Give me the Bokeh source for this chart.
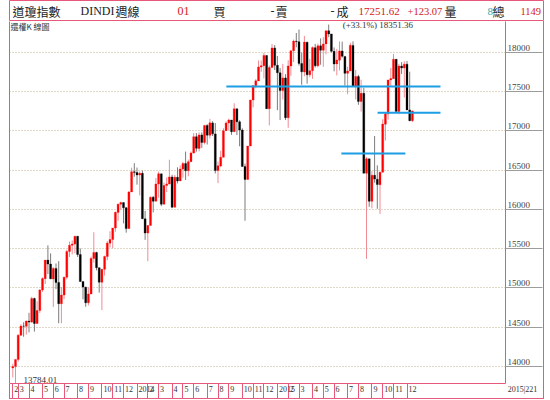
from bokeh.plotting import figure
from bokeh.layouts import column, row
from bokeh.models import (Range1d, FixedTicker, Label, ColumnDataSource, LinearAxis,
                          Div, Spacer)
from bokeh.embed import file_html
from bokeh.resources import INLINE

# ---------------- data (weekly DJIA bars, week 0 = 2013-02-18) ----------------
weeks = list(range(149))
opens = [13981, 14000, 14089, 14397, 14514, 14512, 14578, 14565, 14865, 14547,
         14712, 14973, 15118, 15354, 15303, 15115, 15248, 15070, 14799, 14909,
         15135, 15464, 15543, 15558, 15658, 15425, 15081, 15010, 14810, 14922,
         15376, 15451, 15258, 15072, 15237, 15399, 15570, 15615, 15761, 15961,
         16064, 16086, 16020, 15755, 16221, 16478, 16469, 16437, 16458, 15879,
         15698, 15794, 16154, 16103, 16321, 16452, 16065, 16302, 16323, 16412,
         16026, 16408, 16361, 16512, 16583, 16491, 16606, 16717, 16924, 16775,
         16947, 16851, 17068, 16943, 17100, 16960, 16493, 16553, 16662, 17001,
         17098, 17137, 16987, 17279, 17113, 17009, 16544, 16380, 16805, 17390,
         17573, 17634, 17810, 17828, 17958, 17280, 17804, 18053, 17832, 17737,
         17511, 17672, 17164, 17824, 18019, 18140, 18132, 17856, 17749, 18127,
         17712, 17763, 18057, 17826, 18080, 18024, 18105, 18272, 18232, 18010,
         17849, 17898, 18015, 17946, 17730, 17760, 18086, 17568, 17689, 17373,
         17477, 16459, 16643, 16102, 16433, 16384, 16314, 16472, 17084, 17215,
         17646, 17663, 17910, 17245, 17823, 17798, 17847, 17265, 17128]
highs = [14035, 14090, 14414, 14539, 14563, 14585, 14684, 14887, 14877, 14830,
         14986, 15134, 15355, 15542, 15440, 15265, 15311, 15340, 15012, 15144,
         15485, 15590, 15604, 15658, 15658, 15502, 15081, 15016, 15009, 15400,
         15709, 15460, 15258, 15242, 15411, 15598, 15721, 15761, 15974, 16074,
         16097, 16086, 16030, 16232, 16529, 16588, 16532, 16482, 16494, 15980,
         15798, 16164, 16170, 16398, 16480, 16452, 16340, 16406, 16631, 16440,
         16437, 16535, 16558, 16605, 16735, 16632, 16737, 16970, 16970, 16978,
         16979, 17074, 17083, 17151, 17122, 17098, 16608, 16747, 17032, 17120,
         17153, 17137, 17350, 17280, 17133, 17031, 16582, 16806, 17395, 17575,
         17657, 17894, 17894, 17991, 17958, 17831, 18103, 18090, 17951, 17797,
         17851, 17720, 17897, 18019, 18160, 18244, 18288, 17995, 18207, 18132,
         17914, 18072, 18105, 18109, 18175, 18191, 18272, 18351.36, 18232, 18060,
         18042, 18137, 18133, 17946, 17813, 18120, 18137, 17774, 17712, 17650,
         17548, 16665, 16643, 16487, 16933, 16560, 16480, 17146, 17217, 17646,
         17799, 17977, 17910, 17852, 17873, 17884, 17888, 17751, 17257]
lows = [13860, 13784.01, 14061, 14390, 14379, 14405, 14434, 14557, 14444, 14545,
        14681, 14949, 15051, 15177, 15112, 14758, 14985, 14551, 14551, 14859,
        15108, 15393, 15426, 15441, 15395, 15076, 14855, 14760, 14777, 14922,
        15322, 15223, 14940, 14719, 15157, 15352, 15515, 15506, 15715, 15853,
        15994, 15821, 15703, 15751, 16221, 16415, 16314, 16177, 15879, 15612,
        15340, 15794, 15961, 16103, 16149, 16042, 16065, 16221, 16317, 16015,
        16026, 16330, 16361, 16403, 16374, 16420, 16606, 16710, 16733, 16737,
        16782, 16826, 16825, 16901, 16933, 16457, 16333, 16535, 16662, 17001,
        17007, 16948, 16987, 16945, 16802, 16541, 15855, 16380, 16805, 17297,
        17540, 17634, 17750, 17666, 17280, 17067, 17804, 17772, 17262, 17136,
        17397, 17136, 17037, 17699, 17873, 18061, 17829, 17585, 17692, 17599,
        17681, 17660, 17805, 17807, 17840, 17814, 17973, 18190, 17995, 17756,
        17704, 17767, 17929, 17576, 17465, 17760, 17561, 17399, 17330, 17245,
        16459, 15370, 16032, 16012, 16338, 16007, 15942, 16472, 16875, 17142,
        17565, 17663, 17245, 17210, 17721, 17422, 17265, 17120, 17110]
closes = [14000.57, 14089.66, 14397.07, 14514.11, 14512.03, 14578.54, 14565.25, 14865.06, 14547.51, 14712.55,
          14973.96, 15118.49, 15354.40, 15303.10, 15115.57, 15248.12, 15070.18, 14799.40, 14909.60, 15135.84,
          15464.30, 15543.74, 15558.83, 15658.36, 15425.51, 15081.47, 15010.51, 14810.31, 14922.50, 15376.06,
          15451.09, 15258.24, 15072.58, 15237.11, 15399.65, 15570.28, 15615.55, 15761.78, 15961.70, 16064.77,
          16086.41, 16020.20, 15755.36, 16221.14, 16478.41, 16469.99, 16437.05, 16458.56, 15879.11, 15698.85,
          15794.08, 16154.39, 16103.30, 16321.71, 16452.72, 16065.67, 16302.77, 16323.06, 16412.71, 16026.75,
          16408.54, 16361.46, 16512.89, 16583.34, 16491.31, 16606.27, 16717.17, 16924.28, 16775.74, 16947.08,
          16851.84, 17068.26, 16943.81, 17100.18, 16960.57, 16493.37, 16553.93, 16662.91, 17001.22, 17098.45,
          17137.36, 16987.51, 17279.74, 17113.15, 17009.69, 16544.10, 16380.41, 16805.41, 17390.52, 17573.93,
          17634.74, 17810.06, 17828.24, 17958.79, 17280.83, 17804.80, 18053.71, 17832.99, 17737.37, 17511.57,
          17672.60, 17164.95, 17824.29, 18019.35, 18140.44, 18132.70, 17856.78, 17749.31, 18127.65, 17712.66,
          17763.24, 18057.65, 17826.30, 18080.14, 18024.06, 18105.17, 18272.56, 18232.02, 18010.68, 17849.46,
          17898.84, 18015.95, 17946.68, 17730.11, 17760.41, 18086.45, 17568.53, 17689.86, 17373.38, 17477.40,
          16459.75, 16643.01, 16102.38, 16433.09, 16384.58, 16314.67, 16472.37, 17084.49, 17215.97, 17646.70,
          17663.54, 17910.33, 17245.24, 17823.81, 17798.49, 17847.63, 17265.21, 17128.55, 17251.62]

# month separators (week index) and their labels
month_start_week = [0, 2, 6, 11, 15, 19, 24, 28, 33, 37, 41,
                    46, 50, 54, 59, 63, 67, 72, 76, 80, 85, 89, 93,
                    98, 102, 106, 111, 115, 119, 124, 128, 133, 137, 141, 146]
month_labels = ["2", "3", "4", "5", "6", "7", "8", "9", "10", "11", "12",
                "2014", "2", "3", "4", "5", "6", "7", "8", "9", "10", "11", "12",
                "2015", "2", "3", "4", "5", "6", "7", "8", "9", "10", "11", "12"]
last_date_text = "2015|221"

# price grid / tick labels
price_ticks = [14000, 14500, 15000, 15500, 16000, 16500, 17000, 17500, 18000]
price_labels = ["14000", "14500", "15000", "15500", "16000", "16500", "17000", "17500", "18000"]

# blue horizontal support / resistance lines
level_values = [17564, 17229, 16711]
level_from_week = [79.1, 135.1, 121.7]
level_to_week = [158.4, 158.4, 145.4]

# header texts
header_texts = ["道瓊指數", "DINDI", "週線", "01", "買", "-", "賣", "-", "成",
                "17251.62", "+123.07", "量", "8", "總", "1149"]
sub_title = "還權K 線圖"

# ---------------- style / layout constants ----------------
SERIF = "Liberation Serif"
CJK = "Noto Sans CJK TC"
BORDER = "#e8587a"

FULL_W = 544            # page x 0..543, chart border at x = 9 .. 543
BORDER_X = 9
HEAD_H = 21             # page y 0..20
MAIN_W = 543            # + 1px right border strip
MAIN_H = 377            # page y 21..397 ; bottom border strip at 398
FRAME_RIGHT = 505
AXIS_ROW = 15
FRAME_W = FRAME_RIGHT - BORDER_X
FRAME_H = MAIN_H - AXIS_ROW
PPW = 2.7               # pixels per week
X0_PX = 3.3             # px from frame left to first bar
x_start = -X0_PX / PPW
x_end = x_start + FRAME_W / PPW
y_lo = min(lows)
y_hi = 18390

# ---------------- header strip ----------------
head = figure(width=FULL_W, height=HEAD_H, output_backend="svg", toolbar_location=None,
              x_axis_type=None, y_axis_type=None, x_range=Range1d(0, 1), y_range=Range1d(0, 1),
              min_border_left=BORDER_X, min_border_right=0, min_border_top=0, min_border_bottom=0)
head.outline_line_color = BORDER
head.xgrid.visible = False
head.ygrid.visible = False
header_x = [12, 80, 115, 177, 213, 270, 275, 330, 336, 358, 407, 444, 487, 492, 520]
header_font = [CJK, SERIF, CJK, SERIF, CJK, SERIF, CJK, SERIF, CJK, SERIF, SERIF, CJK, SERIF, CJK, SERIF]
header_color = ["#222222", "#222222", "#222222", "#d42020", "#222222", "#222222", "#222222",
                "#222222", "#222222", "#d42020", "#d42020", "#222222", "#3aa8b0", "#222222", "#d42020"]
header_size = [12, 12, 12, 12, 12, 12, 12, 12, 12, 11, 10.5, 12, 11, 12, 10.5]
for t, px, f, c, s in zip(header_texts, header_x, header_font, header_color, header_size):
    head.add_layout(Label(x=px - BORDER_X, y=HEAD_H - 10.5, x_units="screen", y_units="screen",
                          text=t, text_font=f, text_color=c, text_font_size=f"{s}px",
                          text_baseline="middle"))

# ---------------- main chart ----------------
p = figure(width=MAIN_W, height=MAIN_H, output_backend="svg", toolbar_location=None,
           x_range=Range1d(x_start, x_end), y_range=Range1d(y_lo, y_hi),
           x_axis_location="below", y_axis_location="right",
           min_border_left=BORDER_X, min_border_right=MAIN_W - FRAME_RIGHT,
           min_border_top=0, min_border_bottom=AXIS_ROW)
p.outline_line_color = None
p.background_fill_color = "white"
p.border_fill_color = "white"

xa = p.below[0]
ya = p.right[0]

# left border as a bare axis line
left_ax = LinearAxis(ticker=FixedTicker(ticks=[]), axis_line_color=BORDER,
                     major_tick_out=0, major_tick_in=0, minor_tick_out=0, minor_tick_in=0,
                     major_label_text_font_size="0px", major_label_standoff=0)
p.add_layout(left_ax, "left")

# grid
p.xgrid.visible = False
p.ygrid.ticker = FixedTicker(ticks=price_ticks)
p.ygrid.grid_line_color = "#c4b490"
p.ygrid.grid_line_dash = "1 2"

# candles
up = [c >= o for o, c in zip(opens, closes)]
src = ColumnDataSource(dict(
    x=weeks,
    top=[max(o, c) for o, c in zip(opens, closes)],
    bottom=[min(o, c) for o, c in zip(opens, closes)],
    high=highs, low=lows,
    color=["#ff0000" if u else "#000000" for u in up],
    wick=["#f08c94" if u else "#7c7c7c" for u in up],
))
p.segment(x0="x", y0="low", x1="x", y1="high", line_color="wick", line_width=1, source=src)
p.vbar(x="x", width=0.74, top="top", bottom="bottom", fill_color="color",
       line_color="color", line_width=0.3, source=src)

# support lines
p.segment(x0=level_from_week, x1=level_to_week, y0=level_values, y1=level_values,
          line_color="#1c9ee4", line_width=2)

# x axis: separators are minor ticks, labels are major ticks just right of them
def label_center(week, text):
    w = len(text) * 4.0
    return week + (1.5 + w / 2) / PPW
xlab_pos = [label_center(wk, t) for wk, t in zip(month_start_week, month_labels)]
# last-bar date label sits just right of the frame, left-aligned via non-breaking padding
n_pad = round(len(last_date_text) * 4.0 / 2.0) + 1
xlab_pos.append(x_end)
xa.ticker = FixedTicker(ticks=xlab_pos, minor_ticks=[x_start] + month_start_week)
overrides = {pos: t for pos, t in zip(xlab_pos, month_labels)}
overrides[x_end] = "\u00a0" * n_pad + last_date_text
xa.major_label_overrides = overrides
xa.major_tick_out = 0
xa.major_tick_in = 0
xa.minor_tick_out = AXIS_ROW
xa.minor_tick_in = 0
xa.minor_tick_line_color = BORDER
xa.axis_line_color = BORDER
xa.major_label_standoff = -(AXIS_ROW - 1)
xa.major_label_text_font = SERIF
xa.major_label_text_font_size = "8px"
xa.major_label_text_color = "#333333"

# y axis (right): underline = minor tick at value, label centred slightly above
upp = (y_hi - y_lo) / FRAME_H
ylab_pos = [v + 4.5 * upp for v in price_ticks]
ya.ticker = FixedTicker(ticks=ylab_pos, minor_ticks=price_ticks)
ya.major_label_overrides = {pos: t for pos, t in zip(ylab_pos, price_labels)}
ya.major_tick_out = 0
ya.major_tick_in = 0
ya.minor_tick_out = MAIN_W - FRAME_RIGHT - 1
ya.minor_tick_in = 0
ya.minor_tick_line_color = "#9c9c9c"
ya.axis_line_color = BORDER
ya.major_label_standoff = -(MAIN_W - FRAME_RIGHT - 3)
ya.major_label_text_font = SERIF
ya.major_label_text_font_size = "9px"
ya.major_label_text_color = "#444444"

p.add_layout(Label(x=1, y=FRAME_H - 4.5, x_units="screen", y_units="screen",
                   text=sub_title, text_font=CJK, text_color="#333333",
                   text_font_size="8px", text_baseline="middle"))

hi = max(highs)
lo = min(lows)
p.add_layout(Label(x=highs.index(hi), y=hi, x_offset=14, text=f"(+{(hi / lo - 1) * 100:.1f}%) {hi:.2f}",
                   text_font=SERIF, text_font_size="9px", text_color="#333333",
                   text_baseline="middle"))
p.add_layout(Label(x=lows.index(lo), y=lo, x_offset=8, y_offset=1, text=f"{lo:.2f}",
                   text_font=SERIF, text_font_size="9px", text_color="#333333",
                   text_baseline="bottom"))

# outer right and bottom border strips
right_strip = Div(width=1, height=MAIN_H, margin=0, styles={"background-color": BORDER})
bottom_strip = Div(width=FULL_W - BORDER_X, height=1, margin=0, styles={"background-color": BORDER})
layout = column(head,
                row(p, right_strip, spacing=0),
                row(Spacer(width=BORDER_X, height=1, margin=0), bottom_strip, spacing=0),
                spacing=0)

open("out.html", "w").write(file_html(layout, INLINE))
